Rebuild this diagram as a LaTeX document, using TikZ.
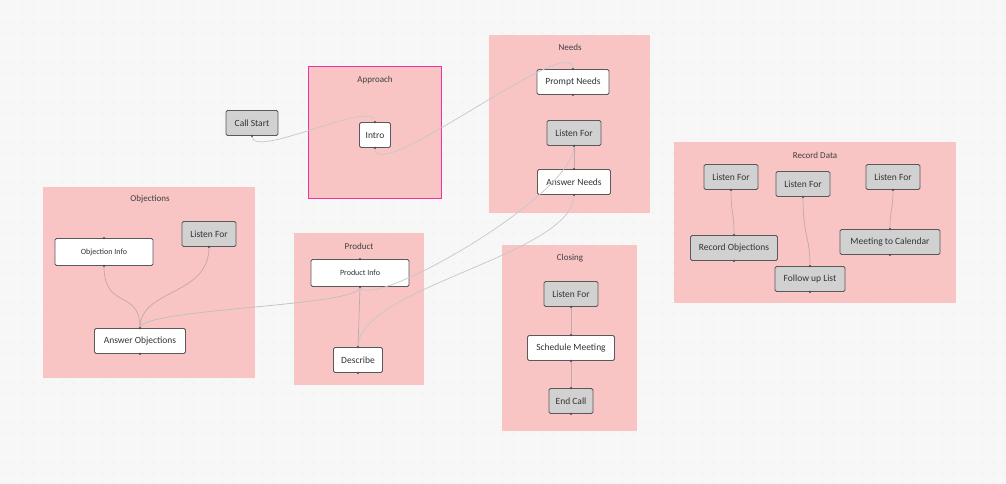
\documentclass[tikz,border=0pt]{standalone}
\usepackage{fontspec}
\setmainfont{Carlito}
\begin{document}
\begin{tikzpicture}[x=1pt,y=-1pt,
 grp/.style={fill=boxpink,draw=none},
 ttl/.style={font=\fontsize{9}{10}\selectfont,text=black!75},
 nd/.style={draw=black!65,line width=0.8pt,rounded corners=1.5pt,fill=white,minimum height=25pt,inner sep=0pt,font=\fontsize{9.5}{11}\selectfont,text=black!80},
 gr/.style={nd,fill=black!18},
 sm/.style={font=\fontsize{8}{10}\selectfont},
 ed/.style={draw=edgec,line width=0.7pt},
 pt/.style={fill=black!70,circle,inner sep=0pt,minimum size=2.5pt}]
\definecolor{boxpink}{HTML}{F8C4C4}
\definecolor{edgec}{HTML}{C4A8A8}
\fill[black!3] (0,0) rectangle (1006,484);
\useasboundingbox (0,0) rectangle (1006,484);
\foreach \i in {0,...,100} \foreach \j in {0,...,48} \fill[black!25] (\i*10+3,\j*10+3) circle (0.45);
% groups
\fill[grp] (308,66) rectangle (441,198);
\draw[draw=magenta!80,line width=0.9pt] (308,66) rectangle (441,198);
\fill[grp] (489,35) rectangle (650,213);
\fill[grp] (43,187) rectangle (255,378);
\fill[grp] (294,233) rectangle (424,385);
\fill[grp] (502,245) rectangle (637,431);
\fill[grp] (674,142) rectangle (956,303);
\node[ttl] (tA) at (375,80) {Approach};
\node[ttl] (tN) at (570,47) {Needs};
\node[ttl] (tO) at (150,199) {Objections};
\node[ttl] (tP) at (359,246) {Product};
\node[ttl] (tC) at (570,258) {Closing};
\node[ttl] (tR) at (815,155) {Record Data};
% nodes
\node[gr,minimum width=52pt] (cs) at (252,123) {Call Start};
\node[nd,minimum width=31pt] (in) at (375,135) {Intro};
\node[nd,minimum width=72pt] (pn) at (573,82) {Prompt Needs};
\node[gr,minimum width=54pt] (lfn) at (574,133) {Listen For};
\node[nd,minimum width=73pt] (an) at (574,182) {Answer Needs};
\node[nd,sm,minimum width=98pt,minimum height=27pt] (oi) at (104,252) {Objection Info};
\node[gr,minimum width=54pt] (lfo) at (209,234) {Listen For};
\node[nd,minimum width=91pt] (ao) at (140,341) {Answer Objections};
\node[nd,sm,minimum width=98pt,minimum height=27pt] (pi) at (360,273) {Product Info};
\node[nd,minimum width=49pt] (de) at (358,360) {Describe};
\node[gr,minimum width=54pt] (lfc) at (571,294) {Listen For};
\node[nd,minimum width=87pt] (sc) at (571,348) {Schedule Meeting};
\node[gr,minimum width=44pt] (ec) at (571,401) {End Call};
\node[gr,minimum width=54pt] (lr1) at (731,177) {Listen For};
\node[gr,minimum width=54pt] (lr2) at (803,184) {Listen For};
\node[gr,minimum width=54pt] (lr3) at (893,177) {Listen For};
\node[gr,minimum width=87pt] (ro) at (734,248) {Record Objections};
\node[gr,minimum width=70pt] (fl) at (810,279) {Follow up List};
\node[gr,minimum width=100pt] (mc) at (890,242) {Meeting to Calendar};
% edges
\draw[ed,draw=black!22] (cs.south) .. controls +(0,25) and +(0,-25) .. (in.north);
\draw[ed,draw=black!22] (in.south) .. controls +(0,40) and +(0,-40) .. (pn.north);
\draw[ed] (lfn.south) -- (an.north);
\draw[ed,draw=black!22] (pi.south) .. controls +(10,25) and +(0,50) .. (lfn.south);
\draw[ed,draw=black!22] (an.south) .. controls +(0,60) and +(0,-60) .. (de.north);
\draw[ed] (pi.south) -- (de.north);
\draw[ed,draw=black!25] (pi.south) .. controls +(0,20) and +(0,-20) .. (ao.north);
\draw[ed] (oi.south) .. controls +(0,45) and +(0,-40) .. (ao.north);
\draw[ed] (lfo.south) .. controls +(0,50) and +(0,-40) .. (ao.north);
\draw[ed] (lfc.south) -- (sc.north);
\draw[ed] (sc.south) -- (ec.north);
\draw[ed] (lr1.south) .. controls +(0,25) and +(0,-25) .. (ro.north);
\draw[ed] (lr2.south) .. controls +(0,40) and +(0,-30) .. (fl.north);
\draw[ed] (lr3.south) .. controls +(0,20) and +(0,-20) .. (mc.north);
\foreach \n in {cs,lfn,lfo,lfc,lr1,lr2,lr3} \node[pt] at (\n.south) {};
\foreach \n in {in,pn,an,oi,ao,pi,de,sc,ec,ro,fl,mc} {\node[pt] at (\n.north) {}; \node[pt] at (\n.south) {};}
\end{tikzpicture}
\end{document}
